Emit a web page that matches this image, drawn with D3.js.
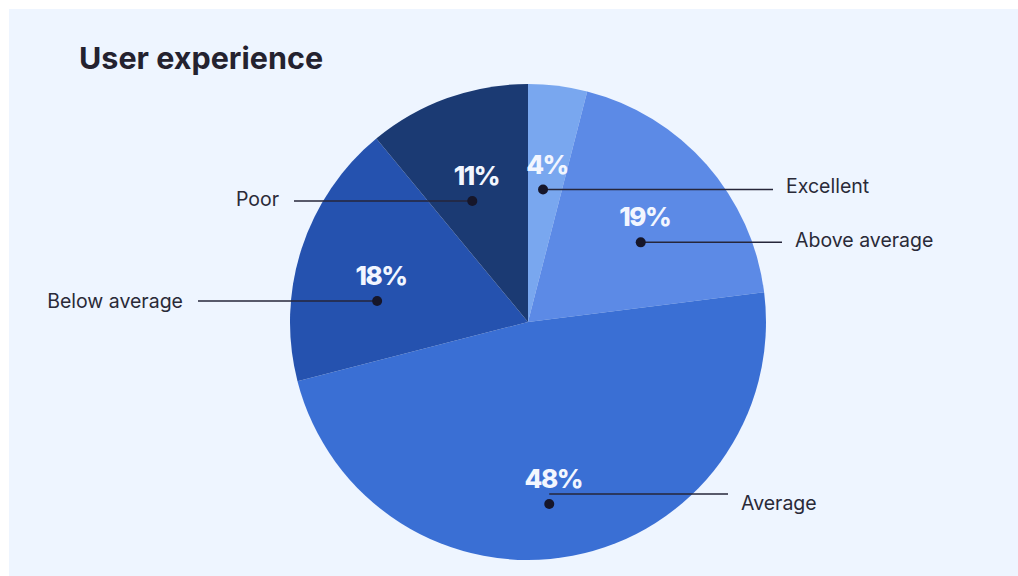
<!DOCTYPE html>
<html>
<head>
<meta charset="utf-8">
<script src="https://cdn.jsdelivr.net/npm/d3@7"></script>
<style>
  html, body { margin: 0; padding: 0; background: #ffffff; }
  svg { display: block; }
</style>
</head>
<body>
<svg id="chart" width="1018" height="576"></svg>
<script>
// Survey results: share of respondents per rating
const categories = ["Excellent", "Above average", "Average", "Below average", "Poor"];
const values = [4, 19, 48, 18, 11];
const valueLabels = ["4%", "19%", "48%", "18%", "11%"];
const colors = ["#79a7ef", "#5c8ae6", "#3a6fd4", "#2552af", "#1b3a73"];

// Where each callout sits inside its slice: fraction along the slice's sweep,
// distance from the centre as a fraction of the radius, which side the label
// goes, how far out the leader reaches, and an optional vertical shift of the leader.
const callouts = [
  { t: 0.45, rf: 0.56, side: "right", reach: 773, lineDy: 0, textDy: -3 },
  { t: 0.59, rf: 0.58, side: "right", reach: 782, lineDy: 0, textDy: -2 },
  { t: 0.524, rf: 0.77, side: "right", reach: 728, lineDy: -10, textDy: -1 },
  { t: 0.344, rf: 0.64, side: "left", reach: 198, lineDy: 0, textDy: 0 },
  { t: 0.376, rf: 0.56, side: "left", reach: 294, lineDy: 0, textDy: -2 }
];

const W = 1018, H = 576;
const cx = 528, cy = 322, R = 238;

const svg = d3.select("#chart");

// panel background
svg.append("rect")
  .attr("x", 9).attr("y", 9)
  .attr("width", W - 9).attr("height", H - 9)
  .attr("fill", "#eef5ff");

svg.append("text")
  .attr("x", 79).attr("y", 69)
  .attr("font-family", "Inter, 'DejaVu Sans', sans-serif")
  .attr("font-weight", 700)
  .attr("font-size", 30.5)
  .attr("fill", "#24222f")
  .text("User experience");

const data = categories.map((c, i) => ({ name: c, value: values[i], label: valueLabels[i], color: colors[i], co: callouts[i] }));

const pie = d3.pie().value(d => d.value).sort(null);
const arc = d3.arc().innerRadius(0).outerRadius(R);
const arcs = pie(data);

const g = svg.append("g").attr("transform", `translate(${cx},${cy})`);

g.selectAll("path.slice")
  .data(arcs)
  .join("path")
  .attr("class", "slice")
  .attr("d", arc)
  .attr("fill", d => d.data.color);

// anchor point of each callout, derived from the slice angles
function anchor(d) {
  const co = d.data.co;
  const a = d.startAngle + co.t * (d.endAngle - d.startAngle);
  const r = co.rf * R;
  return [cx + r * Math.sin(a), cy - r * Math.cos(a)];
}

const callG = svg.append("g");

arcs.forEach(d => {
  const [x, y] = anchor(d);
  const co = d.data.co;
  const ly = y + co.lineDy;

  callG.append("line")
    .attr("x1", x).attr("y1", ly)
    .attr("x2", co.reach).attr("y2", ly)
    .attr("stroke", "#26263a")
    .attr("stroke-width", 1.5);

  callG.append("circle")
    .attr("cx", x).attr("cy", y).attr("r", 5)
    .attr("fill", "#16162a");

  callG.append("text")
    .attr("x", x + 4).attr("y", y - 16)
    .attr("text-anchor", "middle")
    .attr("font-family", "Inter, 'DejaVu Sans', sans-serif")
    .attr("font-weight", 800)
    .attr("font-size", 26)
    .attr("letter-spacing", -1.5)
    .attr("fill", "#f2f6ff")
    .text(d.data.label);

  const right = co.side === "right";
  callG.append("text")
    .attr("x", right ? co.reach + 13 : co.reach - 15)
    .attr("y", y + co.textDy)
    .attr("dy", "0.35em")
    .attr("text-anchor", right ? "start" : "end")
    .attr("font-family", "Inter, 'DejaVu Sans', sans-serif")
    .attr("font-size", 19.5)
    .attr("fill", "#2a2a38")
    .text(d.data.name);
});
</script>
</body>
</html>
